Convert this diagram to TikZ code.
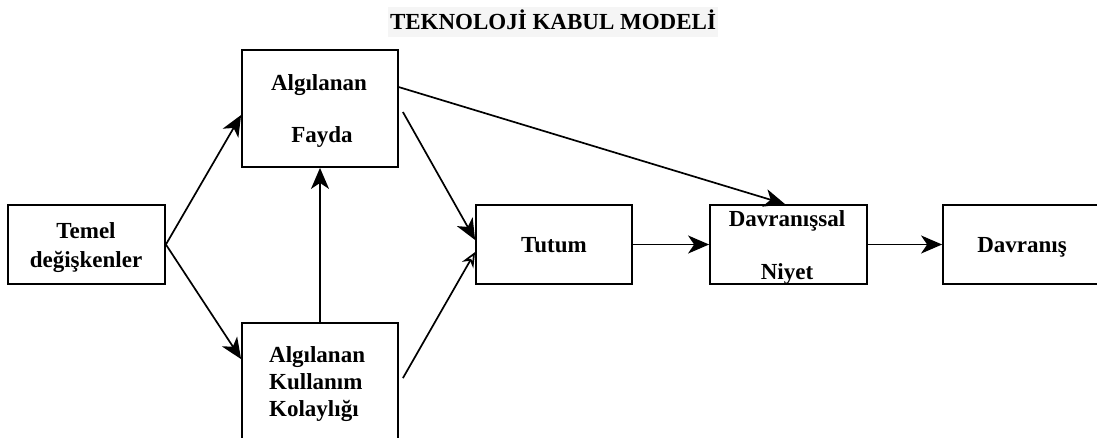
\documentclass[tikz,border=0pt]{standalone}
\usepackage{fontspec}
\setmainfont{Liberation Serif}
\usetikzlibrary{arrows.meta,calc}
\begin{document}
\begin{tikzpicture}[x=1pt,y=-1pt,
  box/.style={draw, line width=1.8pt, inner sep=0pt},
  lbl/.style={font=\fontsize{23}{27}\selectfont\bfseries, anchor=base, inner sep=0pt},
  conn/.style={line width=1.7pt, -{Stealth[length=21pt,width=18pt,inset=6pt]}},
  oconn/.style={line width=1.7pt, -{Stealth[open,length=15pt,width=13pt,inset=5pt,fill=white]}},
]
\useasboundingbox (0,0) rectangle (1097,437);
\clip (0,0) rectangle (1097,437);
\fill[black!4] (388,7) rectangle (718,37);
\node[lbl] (title) at (553,29) {TEKNOLOJİ KABUL MODELİ};

% boxes
\node[box, minimum width=157pt, minimum height=79pt] (tm) at (86.5,244.5) {};
\node[box, minimum width=156pt, minimum height=117pt] (af) at (320,108.5) {};
\node[box, minimum width=156pt, minimum height=147pt] (akk) at (320,396.5) {};
\node[box, minimum width=156pt, minimum height=79pt] (tu) at (554,244.5) {};
\node[box, minimum width=157pt, minimum height=79pt] (dn) at (788.5,244.5) {};
\node[box, minimum width=157pt, minimum height=79pt] (dv) at (1021.5,244.5) {};

% labels
\node[lbl] (tm1) at (86,238) {Temel};
\node[lbl] (tm2) at (86,267) {değişkenler};
\node[lbl] (af1) at (319,90) {Algılanan};
\node[lbl] (af2) at (322,142) {Fayda};
\node[lbl, anchor=base west] (ak1) at (269,362) {Algılanan};
\node[lbl, anchor=base west] (ak2) at (269,389) {Kullanım};
\node[lbl, anchor=base west] (ak3) at (269,416) {Kolaylığı};
\node[lbl] (tu1) at (554,252) {Tutum};
\node[lbl] (dn1) at (787,226) {Davranışsal};
\node[lbl] (dn2) at (787,279) {Niyet};
\node[lbl] (dv1) at (1022,252) {Davranış};

% connectors
\coordinate (afs1) at ($(af.east)+(4,3.5)$);
\coordinate (afs2) at ($(af.north east)+(0,38)$);
\coordinate (aks) at ($(akk.north east)+(4,56)$);
\draw[conn] (tm.east) -- ($(af.west)+(0,6.5)$);
\draw[conn] (tm.east) -- ($(akk.north west)+(0,37)$);
\draw[conn] (akk.north) -- (af.south);
\draw[conn] (afs1) -- ($(tu.west)+(0,-4.5)$);
\draw[conn] (afs2) -- ($(dn.north)+(-3.5,0)$);
\draw[oconn] (aks) -- ($(tu.west)+(0,7.5)$);
\draw[conn] (tu.east) -- (dn.west);
\draw[conn] (dn.east) -- (dv.west);
\end{tikzpicture}
\end{document}
